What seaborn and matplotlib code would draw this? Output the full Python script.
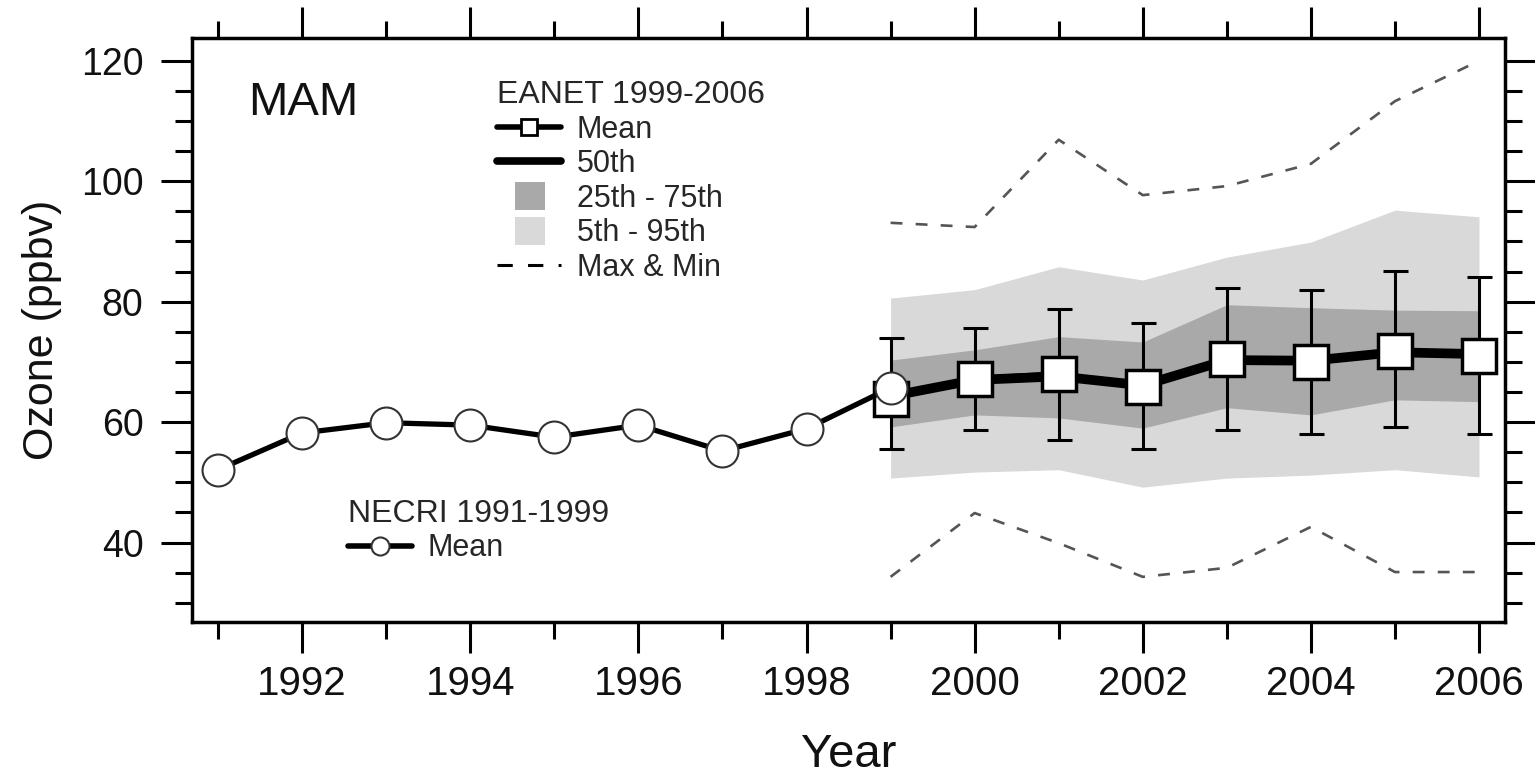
import numpy as np
import matplotlib
matplotlib.use('Agg')
import matplotlib.pyplot as plt
import seaborn as sns
from matplotlib.lines import Line2D
from matplotlib.patches import Patch, Rectangle
from matplotlib.legend_handler import HandlerPatch
from matplotlib.ticker import MultipleLocator

# NECRI 1991-1999 spring (MAM) means
necri_years = [1991, 1992, 1993, 1994, 1995, 1996, 1997, 1998, 1999]
necri_mean = [52.1, 58.2, 59.9, 59.5, 57.5, 59.5, 55.2, 58.9, 65.7]

# EANET 1999-2006 statistics
eanet_years = [1999, 2000, 2001, 2002, 2003, 2004, 2005, 2006]
eanet_mean = [63.9, 67.2, 68.0, 65.8, 70.5, 70.0, 71.8, 71.0]
eanet_median = [64.3, 67.0, 67.6, 66.1, 70.3, 70.2, 71.6, 71.3]
eanet_err_low = [55.5, 58.7, 57.0, 55.5, 58.7, 58.0, 59.2, 58.0]
eanet_err_high = [74.0, 75.6, 78.8, 76.5, 82.3, 82.0, 85.1, 84.1]
eanet_p25 = [59.2, 61.2, 60.7, 59.0, 62.4, 61.2, 63.7, 63.4]
eanet_p75 = [70.3, 72.0, 74.2, 73.3, 79.5, 79.0, 78.6, 78.5]
eanet_p5 = [50.7, 51.7, 52.1, 49.2, 50.7, 51.2, 52.1, 50.9]
eanet_p95 = [80.6, 82.0, 85.8, 83.6, 87.4, 89.9, 95.2, 94.1]
eanet_max = [93.1, 92.4, 106.9, 97.7, 99.2, 102.9, 113.3, 120.0]
eanet_min = [34.3, 44.9, 39.9, 34.3, 35.8, 42.6, 35.1, 35.1]

light_grey = '#d9d9d9'
dark_grey = '#a9a9a9'
dash_grey = '#555555'

sns.set_style('ticks')
plt.rcParams['font.family'] = ['Liberation Sans', 'DejaVu Sans']

fig = plt.figure(figsize=(15.35, 7.75), dpi=100)
ax = fig.add_axes([0.1251, 0.1974, 0.8554, 0.7536])

ax.fill_between(eanet_years, eanet_p5, eanet_p95, color=light_grey, lw=0, zorder=1)
ax.fill_between(eanet_years, eanet_p25, eanet_p75, color=dark_grey, lw=0, zorder=1.5)

sns.lineplot(x=eanet_years, y=eanet_max, color=dash_grey, lw=1.9, linestyle=(0, (4.5, 5)), ax=ax, zorder=2)
sns.lineplot(x=eanet_years, y=eanet_min, color=dash_grey, lw=1.9, linestyle=(0, (4.5, 5)), ax=ax, zorder=2)

sns.lineplot(x=eanet_years, y=eanet_median, color='black', lw=7, ax=ax, zorder=3)

mean_arr = np.array(eanet_mean)
yerr = [mean_arr - np.array(eanet_err_low), np.array(eanet_err_high) - mean_arr]
ax.errorbar(eanet_years, eanet_mean, yerr=yerr, fmt='none', ecolor='black',
            elinewidth=2.2, capsize=9, capthick=2.2, zorder=4)

sns.lineplot(x=eanet_years, y=eanet_mean, color='black', lw=4, marker='s', markersize=24,
             markerfacecolor='white', markeredgecolor='black', markeredgewidth=2.5, ax=ax, zorder=5)

sns.lineplot(x=necri_years, y=necri_mean, color='black', lw=3.8, marker='o', markersize=23,
             markerfacecolor='white', markeredgecolor='#333333', markeredgewidth=1.5, ax=ax, zorder=6)

ax.set_xlim(1990.69, 2006.31)
ax.set_ylim(26.8, 123.8)
ax.xaxis.set_major_locator(MultipleLocator(2))
ax.xaxis.set_minor_locator(MultipleLocator(1))
ax.yaxis.set_major_locator(MultipleLocator(20))
ax.yaxis.set_minor_locator(MultipleLocator(5))

for side in ['left', 'right', 'top', 'bottom']:
    ax.spines[side].set_visible(True)
    ax.spines[side].set_linewidth(2.5)
    ax.spines[side].set_color('black')

ax.tick_params(which='major', direction='out', length=22, width=2.2, color='black',
               top=True, right=True)
ax.tick_params(which='minor', direction='out', length=12, width=2.2, color='black',
               top=True, right=True)
ax.tick_params(axis='x', which='major', labelsize=29, pad=9, labelcolor='#111111')
ax.tick_params(axis='y', which='major', labelsize=27, pad=13, labelcolor='#111111')

ax.set_xlabel('Year', fontsize=34, color='#111111')
ax.set_ylabel('Ozone (ppbv)', fontsize=31, color='#111111')
ax.xaxis.set_label_coords(0.5, -0.19)
ax.yaxis.set_label_coords(-0.099, 0.5)

ax.text(0.0427, 0.868, 'MAM', transform=ax.transAxes, fontsize=34, va='baseline',
        ha='left', color='#111111')


def small_box(legend, orig_handle, xdescent, ydescent, width, height, fontsize):
    return Rectangle((-xdescent + 0.28 * width, -ydescent - 0.15 * height),
                     0.46 * width, 1.3 * height)


eanet_handles = [
    Line2D([], [], color='black', lw=4, marker='s', markersize=12, markerfacecolor='white',
           markeredgecolor='black', markeredgewidth=2),
    Line2D([], [], color='black', lw=5.5),
    Patch(facecolor=dark_grey, edgecolor='none'),
    Patch(facecolor=light_grey, edgecolor='none'),
    Line2D([], [], color='black', lw=2.2, linestyle=(0, (5, 5))),
]
eanet_labels = ['Mean', '50th', '25th - 75th', '5th - 95th', 'Max & Min']
leg1 = ax.legend(eanet_handles, eanet_labels, title='EANET 1999-2006', loc='upper left',
                 bbox_to_anchor=(0.2325, 0.928), frameon=False, borderpad=0, borderaxespad=0,
                 fontsize=22, title_fontsize=23, labelspacing=0.15, handlelength=2.1,
                 handletextpad=0.5, alignment='left',
                 handler_map={Patch: HandlerPatch(patch_func=small_box)})
ax.add_artist(leg1)

necri_handles = [
    Line2D([], [], color='black', lw=4, marker='o', markersize=13, markerfacecolor='white',
           markeredgecolor='#333333', markeredgewidth=1.5),
]
leg2 = ax.legend(necri_handles, ['Mean'], title='NECRI 1991-1999', loc='upper left',
                 bbox_to_anchor=(0.119, 0.211), frameon=False, borderpad=0, borderaxespad=0,
                 fontsize=22, title_fontsize=23, labelspacing=0.15, handlelength=2.1,
                 handletextpad=0.5, alignment='left')

fig.savefig('out.png', dpi=100)
